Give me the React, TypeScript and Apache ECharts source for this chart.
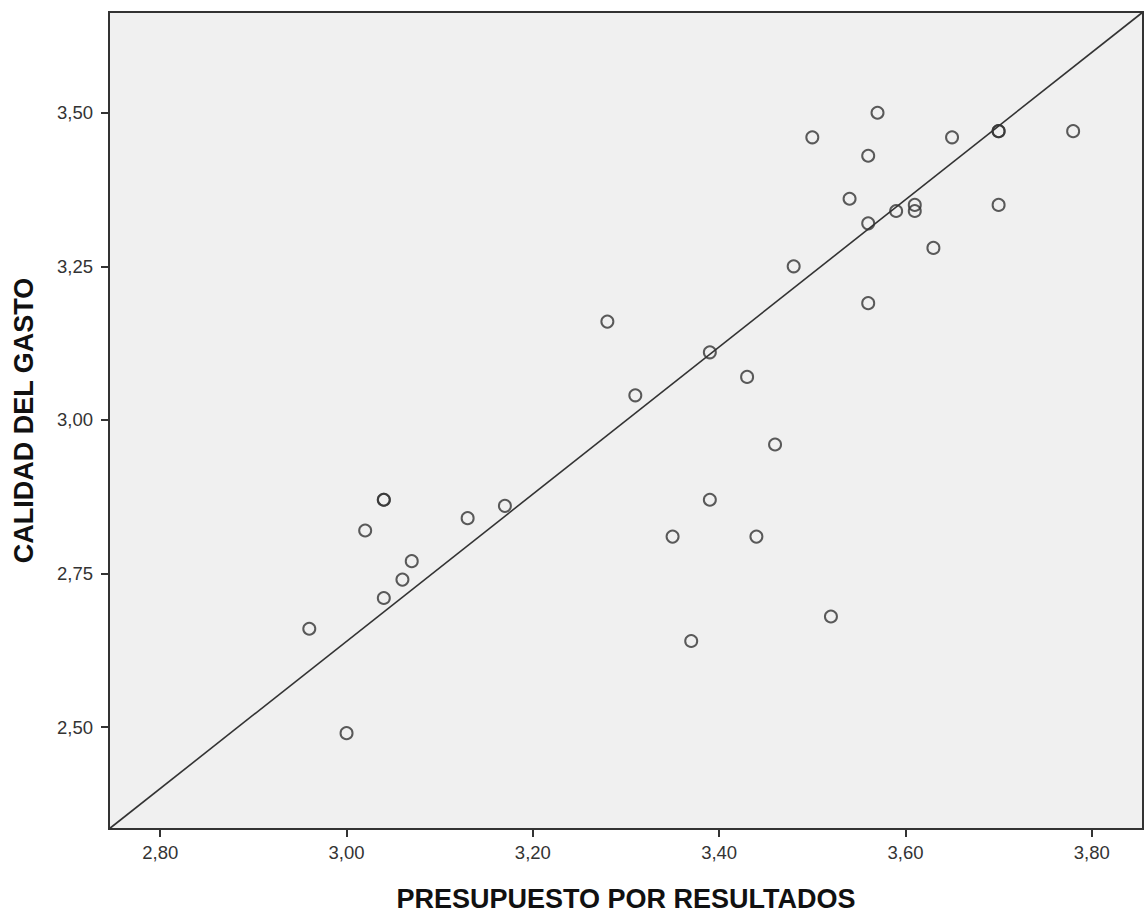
import React, { useEffect, useRef } from "react";
import * as echarts from "echarts";

const presupuesto: number[] = [
  2.96, 3.0, 3.02, 3.04, 3.04, 3.04, 3.06, 3.07, 3.13, 3.17, 3.28, 3.31, 3.35,
  3.37, 3.39, 3.39, 3.43, 3.44, 3.46, 3.48, 3.5, 3.52, 3.54, 3.56, 3.56, 3.56,
  3.57, 3.59, 3.61, 3.61, 3.63, 3.65, 3.7, 3.7, 3.7, 3.78,
];
const calidad: number[] = [
  2.66, 2.49, 2.82, 2.87, 2.87, 2.71, 2.74, 2.77, 2.84, 2.86, 3.16, 3.04, 2.81,
  2.64, 3.11, 2.87, 3.07, 2.81, 2.96, 3.25, 3.46, 2.68, 3.36, 3.43, 3.32, 3.19,
  3.5, 3.34, 3.35, 3.34, 3.28, 3.46, 3.47, 3.47, 3.35, 3.47,
];
const fitLineX: number[] = [2.745, 3.855];
const fitLineY: number[] = [2.334, 3.664];
const xTicks: number[] = [2.8, 3.0, 3.2, 3.4, 3.6, 3.8];
const yTicks: number[] = [2.5, 2.75, 3.0, 3.25, 3.5];
const xTitle = "PRESUPUESTO POR RESULTADOS";
const yTitle = "CALIDAD DEL GASTO";

const FONT = "'Liberation Sans', Arial, sans-serif";
const fmt = (v: number) => v.toFixed(2).replace(".", ",");

export default function App() {
  const ref = useRef<HTMLDivElement>(null);
  useEffect(() => {
    if (!ref.current) return;
    const chart = echarts.init(ref.current, undefined, { renderer: "svg" });
    const points = presupuesto.map((x, i) => [x, calidad[i]]);
    const line = fitLineX.map((x, i) => [x, fitLineY[i]]);
    const axisCommon = {
      type: "value" as const,
      axisLine: { show: true, lineStyle: { color: "#333", width: 2 } },
      axisTick: { show: true, length: 8, lineStyle: { color: "#333", width: 2 } },
      splitLine: { show: false },
      nameLocation: "middle" as const,
      nameTextStyle: { fontFamily: FONT, fontSize: 27, fontWeight: "bold", color: "#111" },
    };
    chart.setOption({
      animation: false,
      backgroundColor: "#ffffff",
      grid: {
        left: 109,
        right: 2,
        top: 12,
        bottom: 85,
        outerBoundsMode: "none",
        containLabel: false,
        show: true,
        backgroundColor: "#f0f0f0",
        borderColor: "#333",
        borderWidth: 2,
      },
      xAxis: {
        ...axisCommon,
        min: fitLineX[0],
        max: fitLineX[1],
        name: xTitle,
        nameGap: 56,
        axisTick: { ...axisCommon.axisTick, customValues: xTicks },
        axisLabel: {
          customValues: xTicks,
          formatter: fmt,
          fontFamily: FONT,
          fontSize: 18.5,
          color: "#333",
          margin: 14,
        },
      },
      yAxis: {
        ...axisCommon,
        min: fitLineY[0],
        max: fitLineY[1],
        name: yTitle,
        nameGap: 72,
        nameRotate: 90,
        axisTick: { ...axisCommon.axisTick, customValues: yTicks },
        axisLabel: {
          customValues: yTicks,
          formatter: fmt,
          fontFamily: FONT,
          fontSize: 18.5,
          color: "#333",
          margin: 16,
        },
      },
      series: [
        {
          type: "line",
          data: line,
          symbol: "none",
          lineStyle: { color: "#333", width: 1.6 },
          silent: true,
          z: 2,
        },
        {
          type: "scatter",
          data: points,
          symbol: "circle",
          symbolSize: 12,
          itemStyle: { color: "rgba(0,0,0,0)", borderColor: "#333", borderWidth: 2 },
          z: 3,
        },
      ],
    });
    return () => chart.dispose();
  }, []);
  return (
    <div
      ref={ref}
      style={{ position: "fixed", left: 0, top: 0, width: 1145, height: 914, background: "#fff" }}
    />
  );
}
